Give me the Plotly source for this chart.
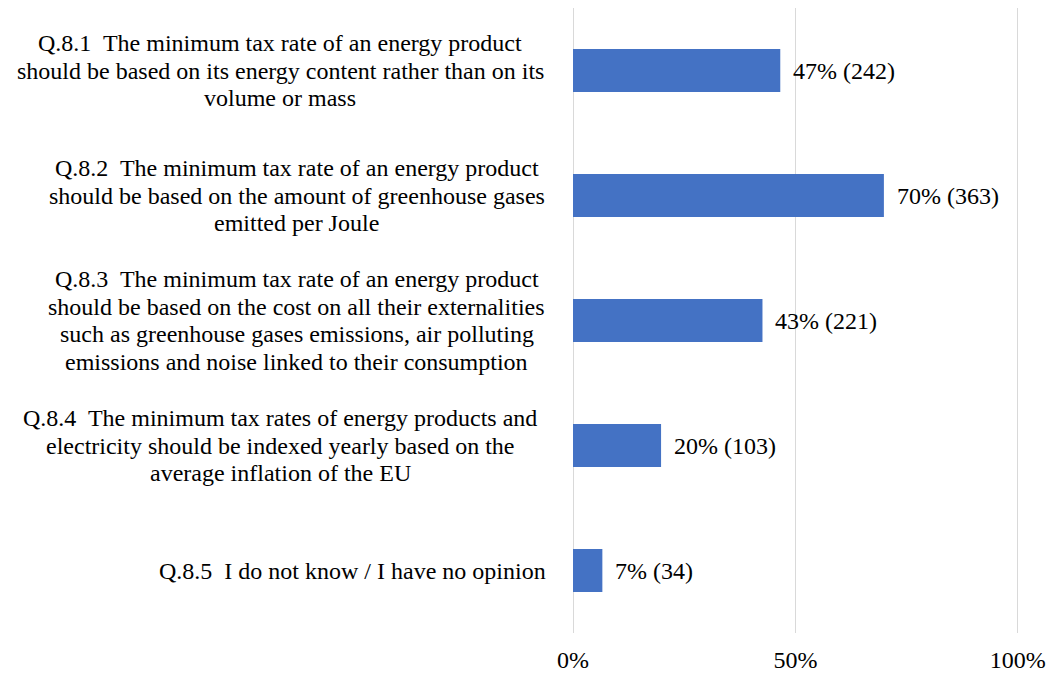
import plotly.graph_objects as go

categories = [
    "Q.8.1  The minimum tax rate of an energy product<br>should be based on its energy content rather than on its<br>volume or mass",
    "Q.8.2  The minimum tax rate of an energy product<br>should be based on the amount of greenhouse gases<br>emitted per Joule",
    "Q.8.3  The minimum tax rate of an energy product<br>should be based on the cost on all their externalities<br>such as greenhouse gases emissions, air polluting<br>emissions and noise linked to their consumption",
    "Q.8.4  The minimum tax rates of energy products and<br>electricity should be indexed yearly based on the<br>average inflation of the EU",
    "Q.8.5  I do not know / I have no opinion",
]
shares = [46.6, 69.9, 42.6, 19.8, 6.6]
pct_labels = ["47%", "70%", "43%", "20%", "7%"]
counts = [242, 363, 221, 103, 34]
tick_vals = [0, 50, 100]
tick_text = ["0%", "50%", "100%"]

FONT = "Liberation Serif"
FSIZE = 24
LINE_H = 27.5
# horizontal centre (px from left edge of page) of each label block
label_centres = [280, 296.5, 296.5, 280, 352]
PLOT_LEFT = 573

ypos = list(range(len(categories)))

fig = go.Figure()
fig.add_trace(go.Bar(
    x=shares, y=ypos, orientation="h",
    marker=dict(color="#4472C4", line=dict(width=0)),
    width=0.345, hoverinfo="skip",
))

annotations = []
for i, (c, s, p, n) in enumerate(zip(categories, shares, pct_labels, counts)):
    lines = c.split("<br>")
    nl = len(lines)
    for k, ln in enumerate(lines):
        annotations.append(dict(
            x=0, y=i, xref="x", yref="y", text=ln, showarrow=False,
            xanchor="center", yanchor="middle",
            xshift=label_centres[i] - PLOT_LEFT,
            yshift=((nl - 1) / 2 - k) * LINE_H,
            font=dict(family=FONT, size=FSIZE, color="#000000"),
        ))
    annotations.append(dict(
        x=s, y=i, xref="x", yref="y", text=f"{p} ({n})", showarrow=False,
        xanchor="left", yanchor="middle", xshift=11,
        font=dict(family=FONT, size=FSIZE, color="#000000"),
    ))

fig.update_layout(
    width=1051, height=675,
    margin=dict(l=PLOT_LEFT, r=31, t=8, b=42, autoexpand=False),
    plot_bgcolor="white", paper_bgcolor="white",
    showlegend=False,
    font=dict(family=FONT),
    annotations=annotations,
    xaxis=dict(
        range=[0, 100.5], tickvals=tick_vals, ticktext=tick_text,
        showgrid=True, gridcolor="#D9D9D9", gridwidth=1,
        zeroline=True, zerolinecolor="#D9D9D9", zerolinewidth=1,
        showline=False, ticks="outside", ticklen=5,
        tickcolor="rgba(0,0,0,0)", automargin=False,
        tickfont=dict(family=FONT, size=FSIZE, color="#000000"),
        fixedrange=True,
    ),
    yaxis=dict(
        range=[4.5, -0.5], showticklabels=False, showgrid=False,
        zeroline=False, showline=False, fixedrange=True, automargin=False,
    ),
)

fig.write_html("out.html")
